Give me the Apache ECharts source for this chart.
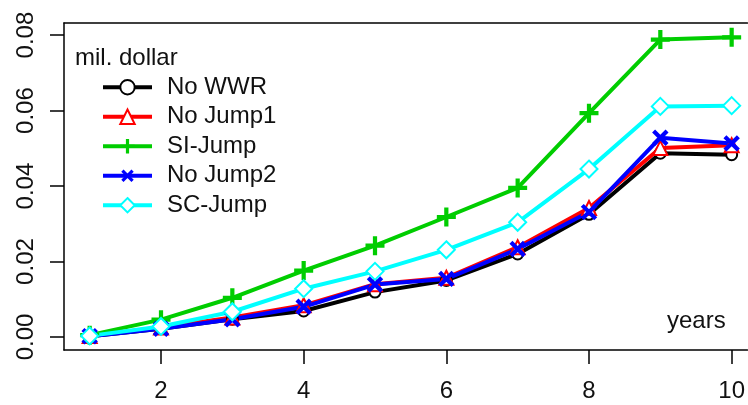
<!DOCTYPE html>
<html>
<head>
<meta charset="utf-8">
<script src="https://cdn.jsdelivr.net/npm/echarts@6/dist/echarts.min.js"></script>
<style>
  html, body { margin: 0; padding: 0; background: #fff; }
  #main { width: 748px; height: 405px; }
</style>
</head>
<body>
<div id="main"></div>
<script>
// data (values in mil. dollar)
var years = [1, 2, 3, 4, 5, 6, 7, 8, 9, 10];
var noWWR   = [0.0002, 0.0022, 0.0047, 0.0069, 0.0119, 0.0150, 0.0220, 0.0325, 0.0487, 0.0483];
var noJump1 = [0.0003, 0.0025, 0.0052, 0.0084, 0.0140, 0.0157, 0.0238, 0.0342, 0.0501, 0.0508];
var siJump  = [0.0005, 0.0046, 0.0104, 0.0176, 0.0242, 0.0318, 0.0395, 0.0593, 0.0788, 0.0794];
var noJump2 = [0.0002, 0.0022, 0.0047, 0.0080, 0.0139, 0.0154, 0.0233, 0.0331, 0.0528, 0.0513];
var scJump  = [0.0003, 0.0028, 0.0067, 0.0128, 0.0174, 0.0231, 0.0304, 0.0445, 0.0611, 0.0613];
var xTicks = [2, 4, 6, 8, 10];
var yTicks = [0, 0.02, 0.04, 0.06, 0.08];

var FONT = 'Liberation Sans, Arial, sans-serif';
var FS = 24;
var PLUS = 'path://M-2,-9H2V9H-2Z M-9,-2H9V2H-9Z';

function pairs(vals){
    return vals.map(function(v, i){ return [years[i], v]; });
}

function mkSeries(name, vals, color, symbol, size, rotate, empty){
    return {
        name: name,
        type: 'line',
        data: pairs(vals),
        symbol: symbol,
        symbolSize: size,
        symbolRotate: rotate || 0,
        showSymbol: true,
        lineStyle: { color: color, width: 4 },
        itemStyle: { color: color, borderColor: color, borderWidth: empty ? 3 : 0 },
        emphasis: { disabled: true }
    };
}

function drawChart(){
    var myChart = echarts.init(document.getElementById('main'), null, { renderer: 'canvas' });
    var black = { color: '#000', width: 1.5 };

    var option = {
        animation: false,
        textStyle: { fontFamily: FONT },
        // plot box runs past the right edge of the picture, so no right border
        grid: { left: 64, right: 0, top: 23, bottom: 55, show: false },
        title: {
            text: 'mil. dollar',
            left: 70, top: 41,
            textStyle: { fontFamily: FONT, fontSize: FS, fontWeight: 'normal', color: '#111' }
        },
        legend: {
            orient: 'vertical',
            left: 96, top: 70,
            itemWidth: 49, itemHeight: 18,
            itemGap: 5,
            selectedMode: false,
            lineStyle: { width: 4 },
            data: ['No WWR', 'No Jump1', 'SI-Jump', 'No Jump2', 'SC-Jump'],
            textStyle: { fontFamily: FONT, fontSize: FS, color: '#111', lineHeight: 24.5, padding: [0, 0, 0, 10] }
        },
        graphic: [{
            type: 'text',
            left: 667, top: 309,
            style: { text: 'years', fontFamily: FONT, fontSize: FS, fill: '#111' }
        }],
        xAxis: [{
            type: 'value',
            min: 0.64, max: 10.22,
            splitLine: { show: false },
            axisLine: { show: true, onZero: false, lineStyle: black },
            axisTick: { show: true, length: 14, customValues: xTicks, lineStyle: black },
            axisLabel: { customValues: xTicks, margin: 29, fontSize: FS, color: '#111', fontFamily: FONT }
        }, {
            type: 'value',
            position: 'top',
            min: 0.64, max: 10.22,
            splitLine: { show: false },
            axisLine: { show: true, onZero: false, lineStyle: black },
            axisTick: { show: false },
            axisLabel: { show: false }
        }],
        yAxis: {
            type: 'value',
            min: -0.00344, max: 0.0832,
            splitLine: { show: false },
            axisLine: { show: true, onZero: false, lineStyle: black },
            axisTick: { show: true, length: 14, customValues: yTicks, lineStyle: black },
            axisLabel: {
                customValues: yTicks, rotate: 90, margin: 26, fontSize: FS, color: '#111', fontFamily: FONT,
                formatter: function(v){ return v.toFixed(2); }
            }
        },
        series: [
            mkSeries('No WWR', noWWR, '#000000', 'emptyCircle', 11, 0, true),
            mkSeries('No Jump1', noJump1, '#ff0000', 'emptyTriangle', 14, 0, true),
            mkSeries('SI-Jump', siJump, '#00cd00', PLUS, 19, 0, false),
            mkSeries('No Jump2', noJump2, '#0000ff', PLUS, 19, 45, false),
            mkSeries('SC-Jump', scJump, '#00ffff', 'emptyDiamond', 17, 0, true)
        ]
    };

    myChart.setOption(option);
}

drawChart();
</script>
</body>
</html>
